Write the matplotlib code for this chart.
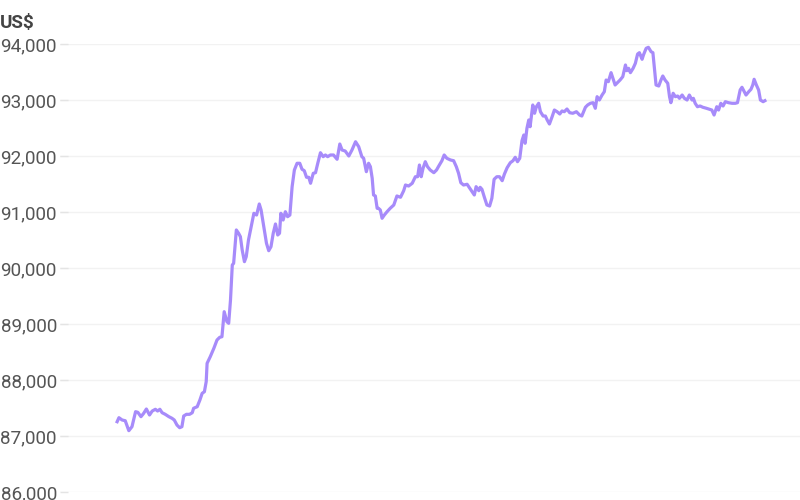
import matplotlib.pyplot as plt
from matplotlib.ticker import FuncFormatter

# price trace, minutes since first point
minutes = [0, 4, 11, 18, 26, 33, 41, 46, 53, 59, 65, 72, 78, 85, 90, 95, 100, 107, 115, 122,
           127, 133, 139, 144, 148, 154, 161, 167, 170, 178, 184, 189, 194, 198, 200, 207, 215, 222, 228, 233,
           238, 244, 248, 252, 256, 259, 265, 270, 274, 278, 283, 287, 292, 298, 304, 310, 316, 320, 326, 332,
           337, 342, 347, 352, 357, 361, 364, 369, 374, 379, 384, 389, 394, 400, 406, 411, 416, 421, 426, 430,
           436, 441, 446, 452, 458, 463, 468, 474, 481, 489, 495, 500, 507, 515, 522, 530, 537, 544, 548, 554,
           559, 563, 567, 570, 574, 578, 581, 585, 589, 594, 600, 607, 615, 622, 630, 637, 641, 648, 656, 663,
           668, 672, 676, 680, 685, 690, 696, 704, 710, 715, 722, 727, 733, 741, 748, 754, 759, 764, 770, 778,
           784, 789, 794, 798, 804, 807, 811, 816, 822, 828, 833, 838, 844, 850, 856, 861, 867, 874, 880, 885,
           890, 895, 900, 904, 907, 911, 915, 918, 924, 928, 932, 937, 941, 947, 952, 956, 961, 967, 972, 978,
           984, 989, 994, 1000, 1006, 1013, 1021, 1028, 1033, 1041, 1046, 1052, 1058, 1063, 1067, 1072, 1078, 1083, 1087, 1092,
           1098, 1102, 1107, 1112, 1118, 1124, 1130, 1133, 1137, 1141, 1147, 1152, 1157, 1161, 1167, 1170, 1176, 1181, 1187, 1191,
           1194, 1198, 1204, 1209, 1213, 1218, 1224, 1228, 1231, 1236, 1241, 1246, 1250, 1256, 1261, 1267, 1272, 1278, 1281, 1285,
           1290, 1296, 1302, 1310, 1317, 1322, 1327, 1333, 1337, 1342, 1347, 1352, 1359, 1367, 1374, 1379, 1385, 1389, 1394, 1398,
           1404, 1409, 1413, 1416, 1421, 1426, 1430, 1436, 1440]
price = [87255, 87327, 87286, 87273, 87095, 87166, 87434, 87423, 87345, 87405, 87482, 87375, 87446, 87477, 87446, 87477, 87416, 87387, 87345, 87316,
         87286, 87196, 87148, 87166, 87357, 87387, 87387, 87416, 87495, 87523, 87643, 87762, 87791, 87970, 88298, 88416, 88566, 88714, 88762, 88773,
         89220, 89041, 89012, 89429, 90054, 90084, 90679, 90620, 90559, 90321, 90113, 90202, 90500, 90738, 90977, 90946, 91143, 91036, 90738, 90441,
         90309, 90380, 90620, 90786, 90589, 90620, 90977, 90857, 91005, 90916, 90946, 91452, 91750, 91870, 91870, 91763, 91738, 91620, 91620, 91513,
         91691, 91702, 91870, 92059, 91988, 92018, 91988, 92018, 92018, 91941, 92214, 92107, 92089, 92000, 92107, 92255, 92166, 91988, 91959, 91720,
         91870, 91809, 91602, 91304, 91286, 91066, 91066, 91036, 90888, 90946, 91005, 91066, 91125, 91286, 91263, 91380, 91482, 91464, 91513, 91630,
         91630, 91839, 91630, 91780, 91898, 91809, 91750, 91702, 91750, 91821, 91916, 92018, 91959, 91929, 91916, 91809, 91691, 91523, 91482, 91495,
         91423, 91363, 91304, 91452, 91380, 91441, 91405, 91273, 91125, 91107, 91245, 91584, 91630, 91630, 91559, 91679, 91791, 91880, 91916, 91977,
         91898, 91959, 92273, 92375, 92227, 92495, 92643, 92523, 92911, 92763, 92880, 92941, 92791, 92714, 92714, 92643, 92571, 92702, 92821, 92791,
         92750, 92804, 92791, 92839, 92773, 92763, 92791, 92732, 92714, 92870, 92911, 92941, 92952, 92852, 93059, 93000, 93089, 93148, 93357, 93327,
         93488, 93388, 93268, 93309, 93357, 93416, 93625, 93523, 93566, 93488, 93566, 93655, 93821, 93845, 93727, 93804, 93923, 93941, 93862, 93845,
         93595, 93268, 93250, 93357, 93429, 93357, 93298, 93059, 92952, 93120, 93059, 93071, 93030, 93089, 93030, 93000, 93089, 93000, 93030, 92941,
         92880, 92893, 92870, 92852, 92834, 92821, 92732, 92880, 92821, 92941, 92893, 92970, 92952, 92941, 92941, 92952, 93179, 93227, 93148, 93089,
         93148, 93191, 93268, 93370, 93268, 93179, 93000, 92970, 92988]
y_ticks = [86000, 87000, 88000, 89000, 90000, 91000, 92000, 93000, 94000]

plt.rcParams['font.family'] = ['Roboto', 'DejaVu Sans']

fig = plt.figure(figsize=(8, 5), dpi=100)
ax = fig.add_axes([0.075, 0.016, 0.925, 0.896])

ax.plot(minutes, price, color='#a78bfa', linewidth=2.3, solid_joinstyle='round', zorder=3)

ax.set_xlim(-127, 1518)
ax.set_ylim(86000, 94000)
ax.set_yticks(y_ticks)
ax.yaxis.set_major_formatter(FuncFormatter(lambda v, p: f'{int(v):,}'))
ax.set_xticks([])
ax.grid(axis='y', color='#f2f2f2', linewidth=1)
ax.tick_params(axis='y', direction='in', length=6, width=1, color='#e4e4e4', pad=2.2,
               labelsize=13.6, labelcolor='#555555')
for s in ax.spines.values():
    s.set_visible(False)

fig.text(0.0, 0.972, 'US$', fontsize=13.6, fontweight='bold', color='#444444', va='top', ha='left')

fig.savefig('out.png', dpi=100)
